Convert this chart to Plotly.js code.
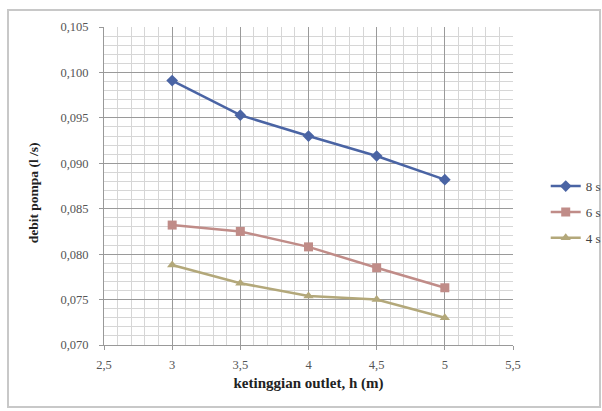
<!DOCTYPE html>
<html><head><meta charset="utf-8">
<script src="https://cdn.plot.ly/plotly-3.0.1.min.js"></script>
<style>html,body{margin:0;padding:0;background:#fff}#c{width:602px;height:411px}</style>
</head><body><div id="c"></div>
<script>
var heights = [3, 3.5, 4, 4.5, 5];
var debit8s = [0.0991, 0.0953, 0.0930, 0.0908, 0.0882];
var debit6s = [0.0832, 0.0825, 0.0808, 0.0785, 0.0763];
var debit4s = [0.0788, 0.0768, 0.0754, 0.0750, 0.0730];
var seriesNames = ['8 s', '6 s', '4 s'];
var yTitle = 'debit pompa (l /s)';
var xTitle = 'ketinggian outlet, h (m)';

var font = "'Liberation Serif', 'Times New Roman', serif";
function tr(y, name, color, sym, grp) {
  return {x: heights, y: y, name: name, type: 'scatter', mode: 'lines+markers',
    legendgroup: grp,
    line: {color: color, width: 2.5},
    marker: {symbol: sym, size: 9, color: color}};
}
var data = [
  tr(debit8s, seriesNames[0], '#4a64a4', 'diamond', 'a'),
  tr(debit6s, seriesNames[1], '#c08c88', 'square', 'b'),
  tr(debit4s, seriesNames[2], '#b3a87a', 'triangle-up', 'c')
];
var layout = {
  width: 602, height: 411,
  margin: {l: 104, r: 89, t: 27, b: 66, autoexpand: false},
  paper_bgcolor: '#fff', plot_bgcolor: '#fff',
  separators: ',.',
  font: {family: font, size: 12, color: '#444'},
  showlegend: true,
  legend: {x: 1.08, y: 0.418, xanchor: 'left', yanchor: 'middle', tracegroupgap: 6,
    font: {family: font, size: 13, color: '#444'}, bgcolor: 'rgba(0,0,0,0)'},
  xaxis: {range: [2.5, 5.5], dtick: 0.5, tick0: 2.5, showgrid: true, gridcolor: '#9a9a9a', gridwidth: 1,
    zeroline: false, showline: true, linecolor: '#999', ticks: 'outside', ticklen: 4, tickcolor: '#999',
    ticklabelstandoff: 4,
    tickfont: {family: font, size: 12.5, color: '#555'},
    minor: {dtick: 0.1, showgrid: true, gridcolor: '#d6d6d6', gridwidth: 1},
    title: {text: '<b>' + xTitle + '</b>', font: {family: font, size: 15, color: '#222'}, standoff: 6}},
  yaxis: {range: [0.070, 0.105], dtick: 0.005, tick0: 0.07, tickformat: '.3f', showgrid: true, gridcolor: '#9a9a9a', gridwidth: 1,
    zeroline: false, showline: true, linecolor: '#999', ticks: 'outside', ticklen: 4, tickcolor: '#999',
    ticklabelstandoff: 8,
    tickfont: {family: font, size: 12.5, color: '#555'},
    minor: {dtick: 0.001, showgrid: true, gridcolor: '#d6d6d6', gridwidth: 1}},
  annotations: [{text: '<b>' + yTitle + '</b>', xref: 'paper', yref: 'paper', x: -0.1736, y: 0.48,
    xanchor: 'center', yanchor: 'middle', textangle: -90, showarrow: false,
    font: {family: font, size: 13.5, color: '#222'}}],
  shapes: [{type: 'rect', xref: 'paper', yref: 'paper', x0: -0.2347, x1: 1.2127, y0: -0.195, y1: 1.0535,
    line: {color: '#c8c8c8', width: 2}, fillcolor: 'rgba(0,0,0,0)', layer: 'below'}]
};
Plotly.newPlot('c', data, layout, {displayModeBar: false, staticPlot: true});
</script></body></html>
